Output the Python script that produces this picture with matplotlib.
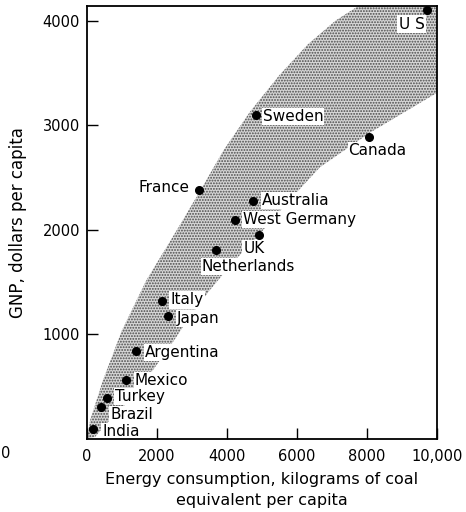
import matplotlib
matplotlib.use("Agg")
import matplotlib.pyplot as plt

plt.rcParams['font.family'] = ['DejaVu Sans']
plt.rcParams['hatch.linewidth'] = 0.9

# energy use (kg coal equivalent per capita) vs GNP (dollars per capita)
countries = ["U S", "Sweden", "Canada", "Australia", "West Germany", "UK",
             "France", "Netherlands", "Italy", "Japan", "Argentina",
             "Mexico", "Turkey", "Brazil", "India"]
energy = [9700, 4820, 8050, 4750, 4230, 4920, 3210, 3680, 2150, 2320,
          1390, 1110, 560, 400, 180]
gnp = [4100, 3100, 2890, 2280, 2090, 1950, 2380, 1810, 1320, 1180,
       840, 565, 395, 310, 95]

# shaded band edges
upper_x = [0, 90, 460, 1000, 1700, 2500, 3230, 3900, 4660, 5500, 6300, 7100, 7800, 10000]
upper_y = [0, 180, 565, 1040, 1520, 1960, 2370, 2760, 3130, 3480, 3770, 4000, 4150, 4150]
lower_x = [10000, 8090, 6660, 5800, 4910, 4200, 3500, 2900, 2400, 1800, 1300, 700, 230, 0]
lower_y = [3310, 2930, 2600, 2290, 1950, 1700, 1420, 1150, 900, 620, 400, 200, 20, 0]

# label offsets in points, alignment
label_style = {
    "U S": (-1.5, -10, "right"),
    "Sweden": (5, -1.5, "left"),
    "Canada": (-14.5, -10, "left"),
    "Australia": (6.5, 0, "left"),
    "West Germany": (5.8, 0.7, "left"),
    "UK": (-11.5, -10, "left"),
    "France": (-7, 2, "right"),
    "Netherlands": (-10, -12, "left"),
    "Italy": (5.8, 0.7, "left"),
    "Japan": (6.5, -2, "left"),
    "Argentina": (6.5, -0.7, "left"),
    "Mexico": (6.5, -0.7, "left"),
    "Turkey": (5.8, 0.7, "left"),
    "Brazil": (6.5, -5.8, "left"),
    "India": (6.5, -2, "left"),
}

fig = plt.figure(figsize=(4.66, 5.12), dpi=100)
ax = fig.add_axes([0.1867, 0.1426, 0.7511, 0.8457])

ax.fill(upper_x + lower_x, upper_y + lower_y, facecolor='#d6d6d6',
        edgecolor='#4a4a4a', linewidth=0, hatch='......', zorder=1)

ax.plot(energy, gnp, 'o', color='black', markersize=5.5, zorder=4)

for name, x, y in zip(countries, energy, gnp):
    dx, dy, ha = label_style[name]
    ax.annotate(name, (x, y), xytext=(dx, dy), textcoords='offset points',
                ha=ha, va='center', fontsize=11, zorder=2.2,
                bbox=dict(facecolor='white', edgecolor='none', pad=0.8))

ax.set_xlim(0, 10000)
ax.set_ylim(0, 4140)
ax.set_xticks([0, 2000, 4000, 6000, 8000, 10000])
ax.set_xticklabels(["0", "2000", "4000", "6000", "8000", "10,000"])
ax.set_yticks([1000, 2000, 3000, 4000])
ax.tick_params(direction='in', length=8, width=1, labelsize=10.5)
ax.tick_params(axis='x', pad=7)
ax.tick_params(axis='y', pad=5)
for sp in ax.spines.values():
    sp.set_linewidth(1.3)
    sp.set_zorder(3)

ax.set_xlabel("Energy consumption, kilograms of coal\nequivalent per capita",
              fontsize=11.5, linespacing=1.5, labelpad=6)
ax.set_ylabel("GNP, dollars per capita", fontsize=12, labelpad=11)

fig.text(0.012, 0.115, "0", fontsize=10.5, ha='center', va='center')

fig.savefig("out.png", dpi=100)
